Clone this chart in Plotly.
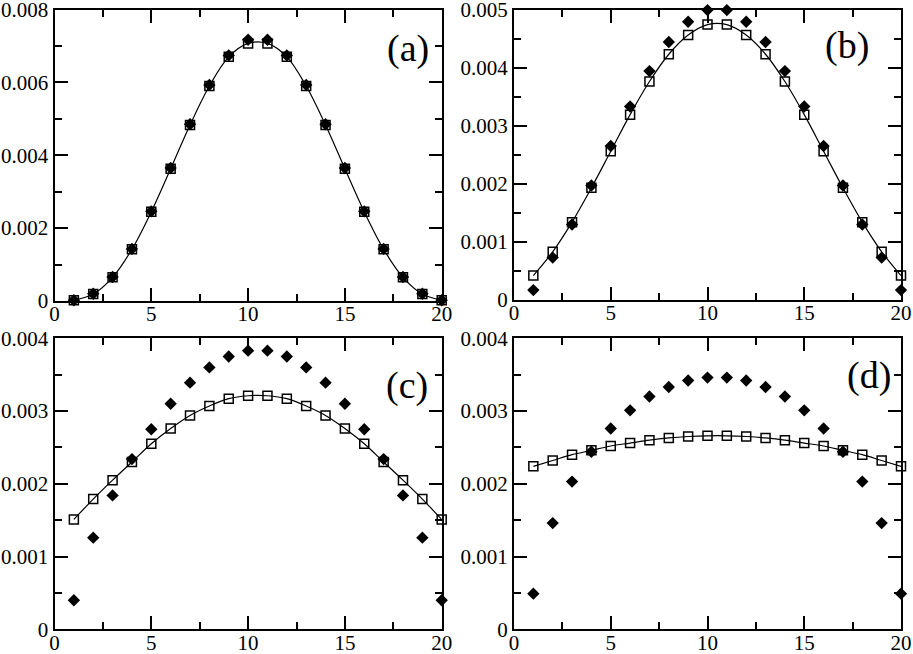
import plotly.graph_objects as go

# site index
x = list(range(1, 21))

# panel (a)
a_sq = [0.00002, 0.00019, 0.00065, 0.00142, 0.00245, 0.00363, 0.00483, 0.0059, 0.0067, 0.00707,
        0.00707, 0.0067, 0.0059, 0.00483, 0.00363, 0.00245, 0.00142, 0.00065, 0.00019, 0.00002]
a_di = [0.00002, 0.0002, 0.00066, 0.00143, 0.00246, 0.00365, 0.00485, 0.00593, 0.00674, 0.00717,
        0.00717, 0.00674, 0.00593, 0.00485, 0.00365, 0.00246, 0.00143, 0.00066, 0.0002, 0.00002]

# panel (b)
b_sq = [0.00042, 0.00083, 0.00134, 0.00193, 0.00256, 0.00319, 0.00376, 0.00423, 0.00456, 0.00474,
        0.00474, 0.00456, 0.00423, 0.00376, 0.00319, 0.00256, 0.00193, 0.00134, 0.00083, 0.00042]
b_di = [0.00017, 0.00073, 0.0013, 0.00197, 0.00265, 0.00333, 0.00394, 0.00444, 0.00479, 0.00499,
        0.00499, 0.00479, 0.00444, 0.00394, 0.00333, 0.00265, 0.00197, 0.0013, 0.00073, 0.00017]

# panel (c)
c_sq = [0.00151, 0.00179, 0.00205, 0.0023, 0.00255, 0.00276, 0.00294, 0.00307, 0.00317, 0.00321,
        0.00321, 0.00317, 0.00307, 0.00294, 0.00276, 0.00255, 0.0023, 0.00205, 0.00179, 0.00151]
c_di = [0.0004, 0.00126, 0.00184, 0.00234, 0.00275, 0.0031, 0.00339, 0.0036, 0.00375, 0.00383,
        0.00383, 0.00375, 0.0036, 0.00339, 0.0031, 0.00275, 0.00234, 0.00184, 0.00126, 0.0004]

# panel (d)
d_sq = [0.00224, 0.00232, 0.0024, 0.00246, 0.00252, 0.00256, 0.0026, 0.00263, 0.00265, 0.00266,
        0.00266, 0.00265, 0.00263, 0.0026, 0.00256, 0.00252, 0.00246, 0.0024, 0.00232, 0.00224]
d_di = [0.00049, 0.00146, 0.00203, 0.00244, 0.00276, 0.00301, 0.0032, 0.00333, 0.00342, 0.00346,
        0.00346, 0.00342, 0.00333, 0.0032, 0.00301, 0.00276, 0.00244, 0.00203, 0.00146, 0.00049]

# tick labels
x_ticks = [0, 5, 10, 15, 20]
y_ticks_a = [0, 0.002, 0.004, 0.006, 0.008]
y_ticks_b = [0, 0.001, 0.002, 0.003, 0.004, 0.005]
y_ticks_cd = [0, 0.001, 0.002, 0.003, 0.004]

panels = [
    ("(a)", a_sq, a_di, y_ticks_a, 0.001),
    ("(b)", b_sq, b_di, y_ticks_b, 0.0005),
    ("(c)", c_sq, c_di, y_ticks_cd, 0.0005),
    ("(d)", d_sq, d_di, y_ticks_cd, 0.0005),
]

W, H = 913, 654
# plot boxes in pixels: left, right, top, bottom
boxes = [
    (54.5, 441.7, 9.5, 301),
    (514, 901, 9.5, 300),
    (54.5, 441.7, 338.3, 629.3),
    (514, 901, 338.3, 629.3),
]
label_pos = [(408, 48), (847, 45), (407, 385), (869, 375)]

font = "Liberation Serif"
fig = go.Figure()
layout = dict(width=W, height=H, margin=dict(l=0, r=0, t=0, b=0),
              paper_bgcolor="white", plot_bgcolor="white", showlegend=False,
              font=dict(family=font, size=21, color="black"))
annotations = []

for i, (lab, sq, di, yt, ymin_dt) in enumerate(panels):
    n = "" if i == 0 else str(i + 1)
    xa, ya = "x" + n, "y" + n
    l, r, t, b = boxes[i]
    fig.add_trace(go.Scatter(x=x, y=sq, mode="lines", line=dict(color="black", width=1.2, shape="spline"),
                             xaxis=xa, yaxis=ya, hoverinfo="skip"))
    fig.add_trace(go.Scatter(x=x, y=sq, mode="markers", cliponaxis=False,
                             marker=dict(symbol="square-open", size=9, color="black", line=dict(width=1.5)),
                             xaxis=xa, yaxis=ya))
    fig.add_trace(go.Scatter(x=x, y=di, mode="markers", cliponaxis=False,
                             marker=dict(symbol="diamond", size=9.5, color="black"),
                             xaxis=xa, yaxis=ya))
    common = dict(showgrid=False, zeroline=False, showline=True, linecolor="black", linewidth=2,
                  mirror="ticks", ticks="inside", ticklen=13, tickwidth=2, tickcolor="black",
                  automargin=False, ticklabeloverflow="allow",
                  tickfont=dict(family=font, size=21, color="black"))
    layout["xaxis" + n] = dict(common, domain=[l / W, r / W], anchor=ya, range=[0, 20],
                               tickmode="array", tickvals=x_ticks, ticktext=[str(v) for v in x_ticks],
                               ticklabelstandoff=-7,
                               minor=dict(dtick=2.5, tick0=0, ticks="inside", ticklen=7, tickwidth=2, tickcolor="black"))
    layout["yaxis" + n] = dict(common, domain=[1 - b / H, 1 - t / H], anchor=xa, range=[0, yt[-1]],
                               tickmode="array", tickvals=yt, ticktext=["0"] + [f"{v:g}" for v in yt[1:]],
                               minor=dict(dtick=ymin_dt, tick0=0, ticks="inside", ticklen=7, tickwidth=2, tickcolor="black"))
    annotations.append(dict(text=lab, x=label_pos[i][0] / W, y=1 - label_pos[i][1] / H, xref="paper", yref="paper",
                            xanchor="center", yanchor="middle", showarrow=False,
                            font=dict(family=font, size=38, color="black")))

layout["annotations"] = annotations
fig.update_layout(**layout)
# drop the default page margin so the figure sits at the window's corner
fig.write_html("out.html", config={"displayModeBar": False},
               post_script="document.body.style.margin='0';")
